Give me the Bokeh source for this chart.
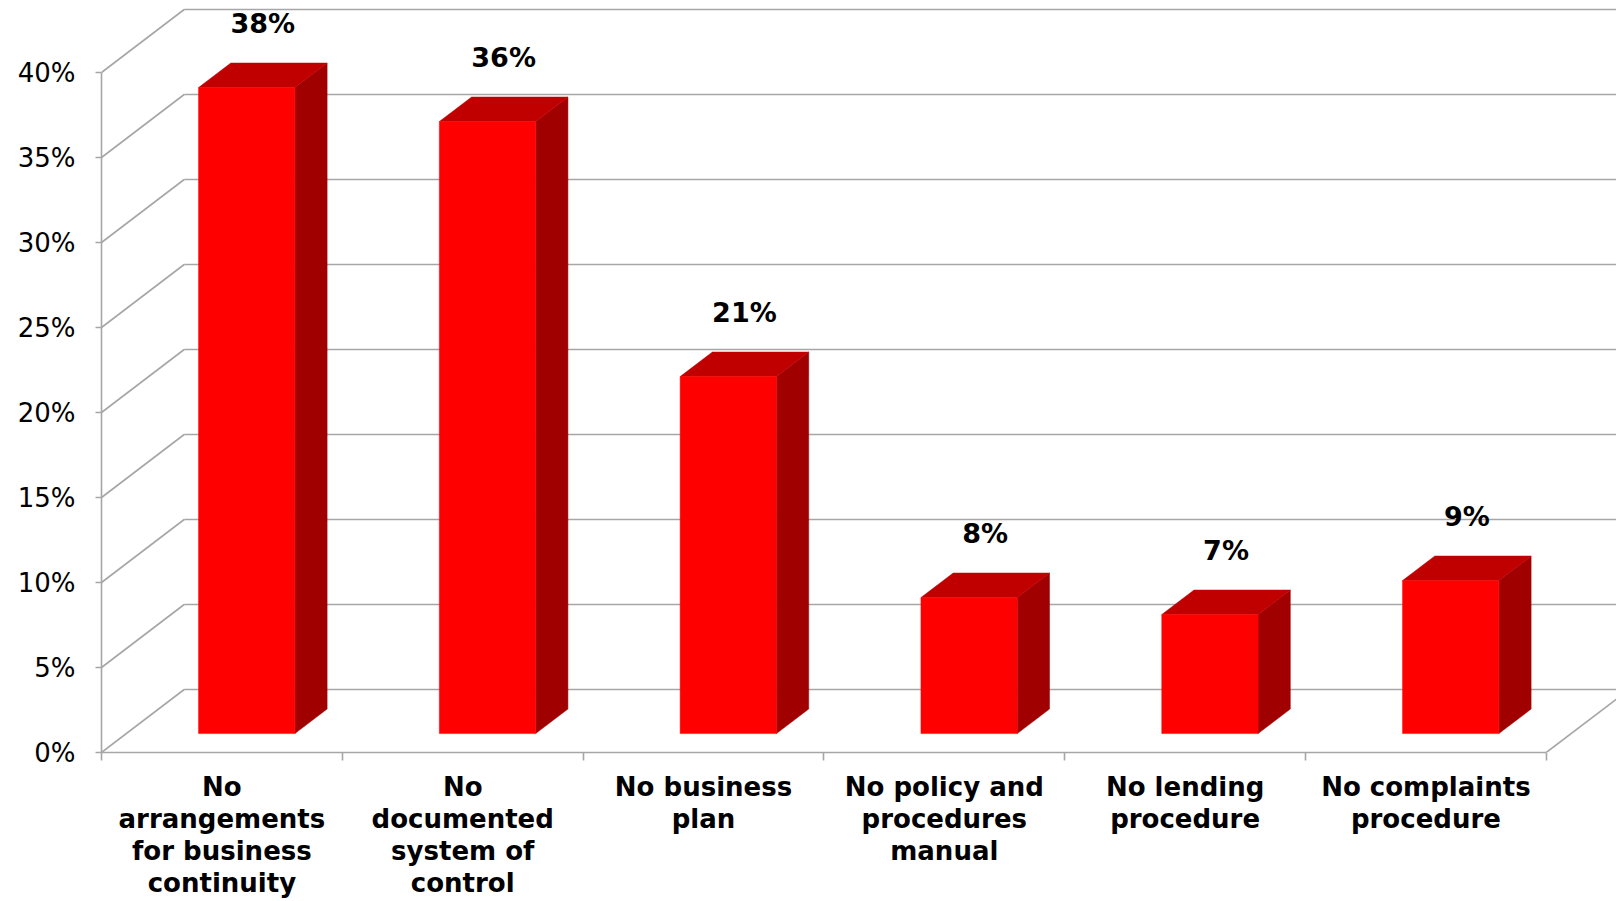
from bokeh.plotting import figure
from bokeh.models import Range1d, LinearAxis, FixedTicker, PrintfTickFormatter
from bokeh.core.properties import value
from bokeh.embed import file_html
from bokeh.resources import INLINE

# ---- data ----
categories = [
    "No\narrangements\nfor business\ncontinuity",
    "No\ndocumented\nsystem of\ncontrol",
    "No business\nplan",
    "No policy and\nprocedures\nmanual",
    "No lending\nprocedure",
    "No complaints\nprocedure",
]
values = [38, 36, 21, 8, 7, 9]
labels = ["38%", "36%", "21%", "8%", "7%", "9%"]
y_ticks = [0, 5, 10, 15, 20, 25, 30, 35, 40]

# ---- geometry (data units) ----
n = len(values)
PX_X = 240.8          # pixels per category
PX_Y = 17.0           # pixels per percent
W, H = 1616, 901
LEFT, BOTTOM = 101, 149
X_END = (W - LEFT) / PX_X
Y_END = (H - BOTTOM) / PX_Y
DX = 82.7 / PX_X      # depth offset in x
DY = 63.0 / PX_Y      # depth offset in y
Z0, Z1 = 0.30, 0.69   # bar depth span
BW = 0.40             # bar width
LABEL_GAP = 40.0 / PX_Y

FONT = "DejaVu Sans"
GRID = "#a6a6a6"

p = figure(width=W, height=H, output_backend="svg", toolbar_location=None,
           x_range=Range1d(0, X_END), y_range=Range1d(0, Y_END),
           x_axis_type=None, y_axis_type=None,
           min_border_left=LEFT, min_border_right=0, min_border_top=0,
           min_border_bottom=BOTTOM)
p.outline_line_color = None
p.xgrid.visible = False
p.ygrid.visible = False
p.background_fill_color = "white"
p.border_fill_color = "white"

# ---- walls: side-wall diagonals and back-wall horizontals ----
p.segment(x0=[0] * len(y_ticks), y0=y_ticks,
          x1=[DX] * len(y_ticks), y1=[t + DY for t in y_ticks],
          line_color=GRID, line_width=1.6)
p.segment(x0=[DX] * len(y_ticks), y0=[t + DY for t in y_ticks],
          x1=[X_END + 1] * len(y_ticks), y1=[t + DY for t in y_ticks],
          line_color=GRID, line_width=1.6)
# right floor edge
p.segment(x0=[n], y0=[0], x1=[n + DX], y1=[DY], line_color=GRID, line_width=1.6)

# ---- bars ----
front_xs, front_ys, side_xs, side_ys, top_xs, top_ys = [], [], [], [], [], []
lab_x, lab_y = [], []
for i, v in enumerate(values):
    c = i + 0.5
    xl = c - BW / 2 + Z0 * DX
    xr = c + BW / 2 + Z0 * DX
    yb = Z0 * DY
    yt = v + Z0 * DY
    ddx = (Z1 - Z0) * DX
    ddy = (Z1 - Z0) * DY
    front_xs.append([xl, xr, xr, xl]); front_ys.append([yb, yb, yt, yt])
    side_xs.append([xr, xr + ddx, xr + ddx, xr]); side_ys.append([yb, yb + ddy, yt + ddy, yt])
    top_xs.append([xl, xr, xr + ddx, xl + ddx]); top_ys.append([yt, yt, yt + ddy, yt + ddy])
    lab_x.append(c + (Z0 + Z1) / 2 * DX)
    lab_y.append(v + Z1 * DY + LABEL_GAP)

p.patches(side_xs, side_ys, fill_color="#a00000", line_color="#a00000", line_width=0.5)
p.patches(top_xs, top_ys, fill_color="#c00000", line_color="#c00000", line_width=0.5)
p.patches(front_xs, front_ys, fill_color="#ff0000", line_color="#ff0000", line_width=0.5)

p.text(x=lab_x, y=lab_y, text=labels, text_align="center", text_baseline="middle",
       text_font=value(FONT), text_font_style="bold", text_font_size="27px",
       text_color="black")

# ---- axes ----
yaxis = LinearAxis(ticker=FixedTicker(ticks=y_ticks),
                   formatter=PrintfTickFormatter(format="%d%%"))
yaxis.bounds = (0, 40)
yaxis.axis_line_color = GRID
yaxis.axis_line_width = 1.6
yaxis.major_tick_line_color = GRID
yaxis.major_tick_line_width = 1.6
yaxis.major_tick_out = 6
yaxis.major_tick_in = 0
yaxis.minor_tick_line_color = None
yaxis.major_label_text_font = FONT
yaxis.major_label_text_font_size = "26px"
yaxis.major_label_text_color = "black"
yaxis.major_label_standoff = 20
p.add_layout(yaxis, "left")

centers = [i + 0.5 for i in range(n)]
bounds = [float(i) for i in range(n + 1)]
xaxis = LinearAxis(ticker=FixedTicker(ticks=centers, minor_ticks=bounds))
xaxis.bounds = (0, n)
xaxis.major_label_overrides = {c: lab for c, lab in zip(centers, categories)}
xaxis.axis_line_color = GRID
xaxis.axis_line_width = 1.6
xaxis.major_tick_line_color = None
xaxis.major_tick_out = 0
xaxis.major_tick_in = 0
xaxis.minor_tick_line_color = GRID
xaxis.minor_tick_line_width = 1.6
xaxis.minor_tick_out = 8
xaxis.minor_tick_in = 0
xaxis.major_label_text_font = FONT
xaxis.major_label_text_font_style = "bold"
xaxis.major_label_text_font_size = "26px"
xaxis.major_label_text_color = "black"
xaxis.major_label_text_line_height = 1.07
xaxis.major_label_standoff = 11
p.add_layout(xaxis, "below")

open("out.html", "w").write(file_html(p, INLINE))
